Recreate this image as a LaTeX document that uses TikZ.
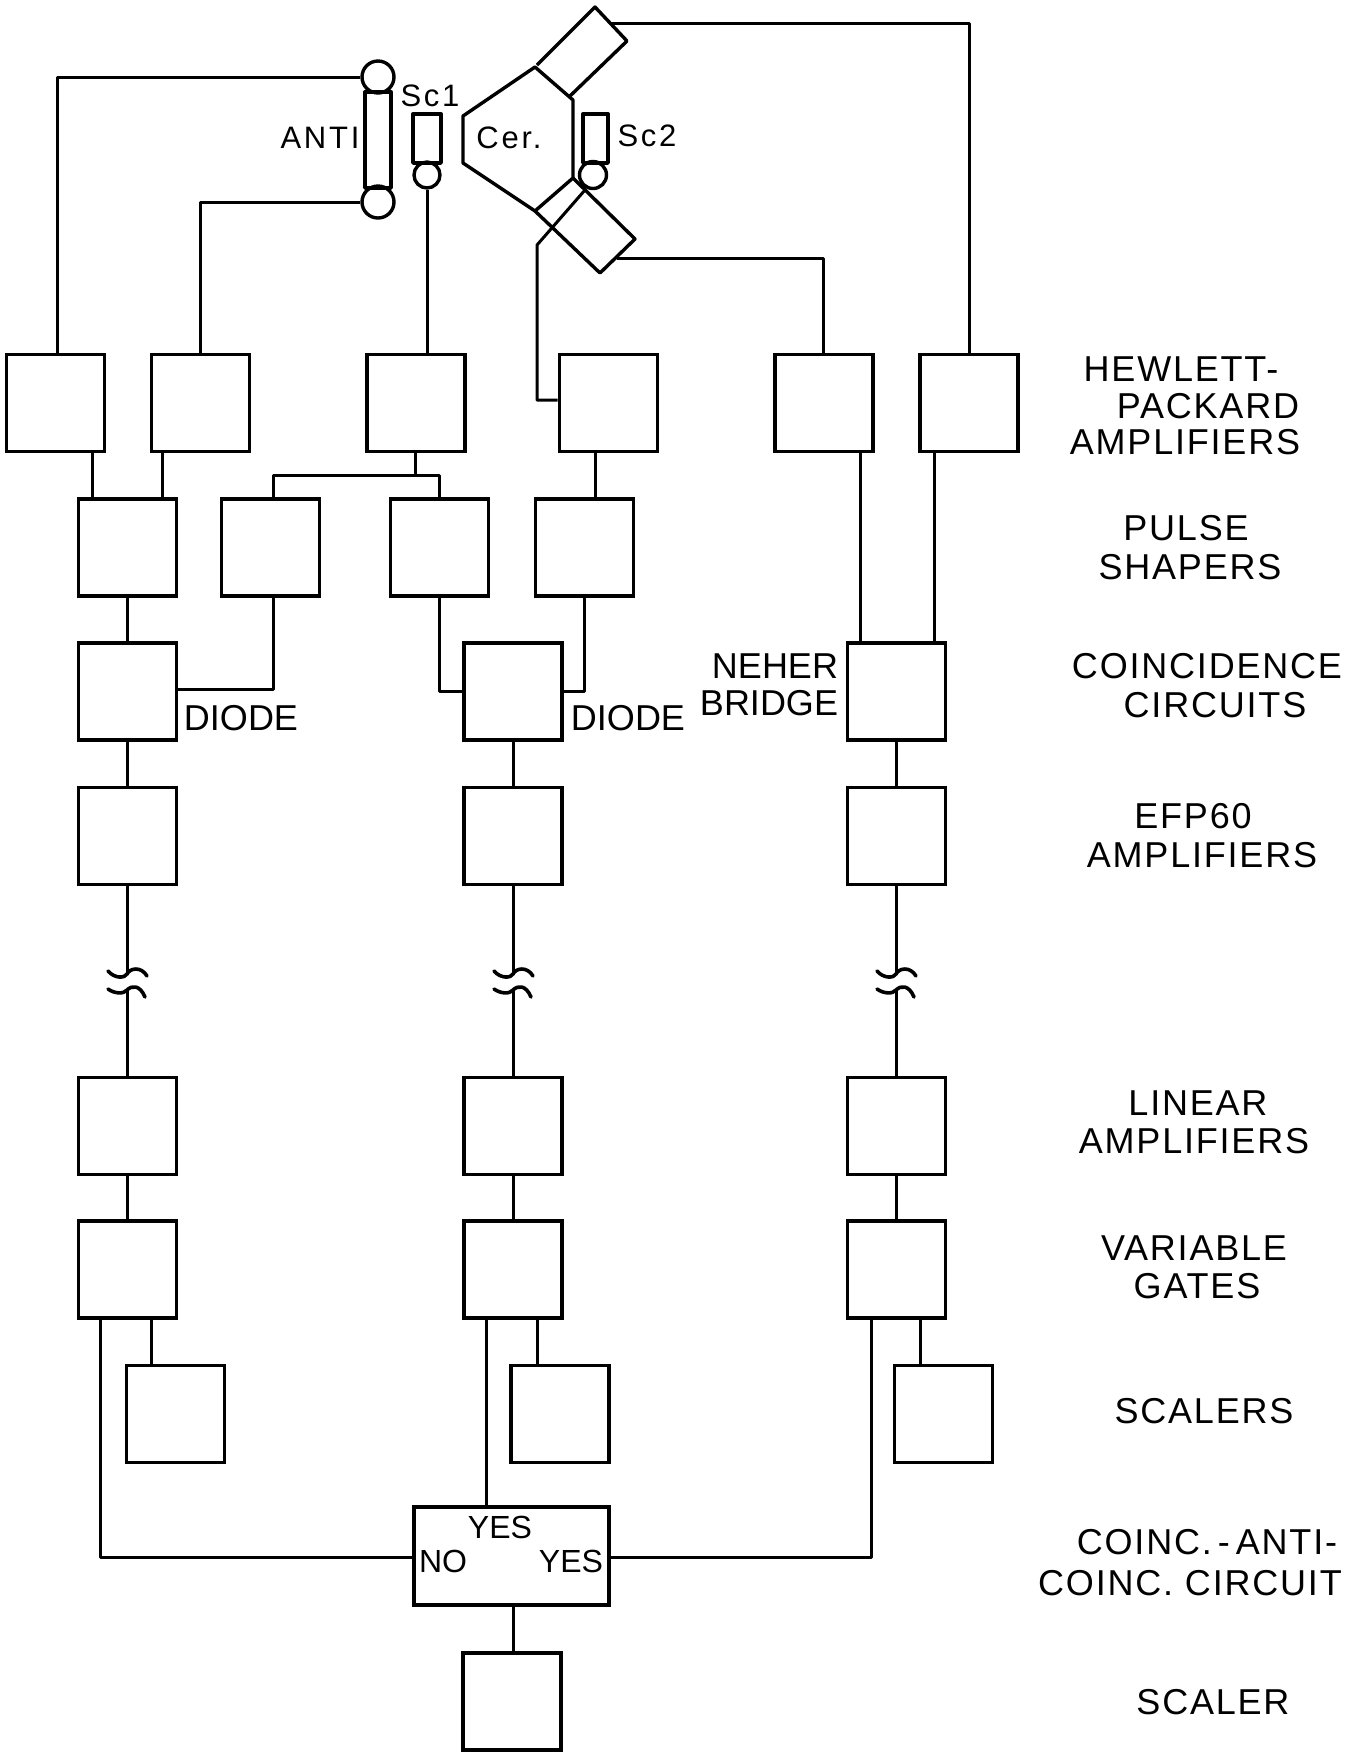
\documentclass[tikz,border=0pt]{standalone}
\usepackage{fontspec}
\setmainfont{Liberation Sans}
\newfontfamily\spacedfont[LetterSpace=5]{Liberation Sans}
\newfontfamily\widefont[LetterSpace=9]{Liberation Sans}
\tikzset{
  wire/.style={line width=1.5pt,line join=round},
  outl/.style={line width=1.7pt,line join=round},
  box/.style={draw,line width=1.8pt,inner sep=0pt,minimum width=49pt,minimum height=48.5pt},
  wide/.style={box,minimum width=97.5pt,minimum height=49pt},
  pmt/.style={draw,circle,line width=1.7pt,inner sep=0pt},
  lab/.style={inner sep=0pt,font=\fontsize{18}{20}\selectfont},
  rlab/.style={inner sep=0pt,font=\spacedfont\fontsize{18}{20}\selectfont},
  small/.style={inner sep=0pt,font=\widefont\fontsize{15.5}{17}\selectfont},
  mid/.style={inner sep=0pt,font=\fontsize{16}{18}\selectfont}
}
\newcommand{\wavebreak}[2]{%
  \draw[wire,line width=1.8pt,line cap=round,shift={(#1,#2)}]
    (-19,-4) .. controls (-12,4) and (-2,3) .. (0,-1) .. controls (3,-7) and (14,-9) .. (20,1)
    (-19,14) .. controls (-12,19) and (-3,19) .. (0,15) .. controls (5,10) and (13,10) .. (18,22);}
\begin{document}
\begin{tikzpicture}[x=0.5pt,y=-0.5pt]
\useasboundingbox (0,0) rectangle (1356,1753);
% amplifier row
\node[box] (h1) at (55.5,403) {};
\node[box] (h2) at (200.5,403) {};
\node[box] (h3) at (416,403) {};
\node[box] (h4) at (608.5,403) {};
\node[box] (h5) at (824,403) {};
\node[box] (h6) at (969,403) {};
% shapers
\node[box] (p1) at (127.5,547.5) {};
\node[box] (p2) at (270.5,547.5) {};
\node[box] (p3) at (439.5,547.5) {};
\node[box] (p4) at (584.5,547.5) {};
% columns
\foreach \c/\x in {1/127.5,2/513,3/896.5}{
  \node[box] (c\c) at (\x,691.5) {};
  \node[box] (e\c) at (\x,836) {};
  \node[box] (l\c) at (\x,1126) {};
  \node[box] (g\c) at (\x,1269.5) {};
}
\node[box] (s1) at (175.5,1414) {};
\node[box] (s2) at (560,1414) {};
\node[box] (s3) at (943.5,1414) {};
\node[wide] (cc) at (511.5,1556) {};
\node[box] (sc) at (512,1701.5) {};
% detectors
\node[pmt,minimum size=16pt] (at) at (378,77) {};
\node[pmt,minimum size=16pt] (ab) at (378,202) {};
\draw[outl] (365,92) rectangle (391,188);
\draw[outl] (413,114) rectangle (441,163);
\node[pmt,minimum size=13pt] (sa) at (427,175) {};
\draw[outl] (583,114) rectangle (608,163);
\node[pmt,minimum size=13.5pt] (sb) at (593,175) {};
\draw[outl] (463,116) -- (535,67) -- (573,100) -- (573,178) -- (535,211) -- (463,163) -- cycle;
\coordinate (up1) at (610,23);
\coordinate (lo1) at (617,258);
\draw[outl] (537,65) -- (595,7) -- (627,41) -- (570,96);
\draw[outl] (573,178) -- (635,239) -- (600,273) -- (535,211);
% wires from detectors
\coordinate (k1) at (585,190);
\coordinate (k2) at (537,245);
\draw[wire] (at.west) -- (57,0 |- at.west) -- (57,0 |- h1.north);
\draw[wire] (ab.west) -- (200,0 |- ab.west) -- (200,0 |- h2.north);
\draw[wire] (sa.south) -- (sa.south |- h3.north);
\draw[wire] (k1) -- (k2) -- (537,400) -- (537,400 -| h4.west);
\draw[wire] (lo1) -- (823,258) -- (823,0 |- h5.north);
\draw[wire] (up1) -- (969,23) -- (969,0 |- h6.north);
% amp to shaper
\draw[wire] (92,0 |- h1.south) -- (92,0 |- p1.north);
\draw[wire] (162,0 |- h2.south) -- (162,0 |- p1.north);
\draw[wire] (415,0 |- h3.south) -- (415,475);
\draw[wire] (273,0 |- p2.north) -- (273,475) -- (439,475) -- (439,0 |- p3.north);
\draw[wire] (595,0 |- h4.south) -- (595,0 |- p4.north);
\draw[wire] (860,0 |- h5.south) -- (860,0 |- c3.north);
\draw[wire] (934,0 |- h6.south) -- (934,0 |- c3.north);
% shaper to coincidence
\draw[wire] (p1.south) -- (c1.north);
\draw[wire] (273,0 |- p2.south) -- (273,689) -- (c1.east |- 0,689);
\draw[wire] (p3.south) -- (p3.south |- 0,691) -- (c2.west |- 0,691);
\draw[wire] (p4.south) -- (p4.south |- 0,691) -- (c2.east |- 0,691);
% column wires
\foreach \c in {1,2,3}{
  \draw[wire] (c\c.south) -- (e\c.north);
  \draw[wire] (l\c.south) -- (g\c.north);
  \draw[wire] (e\c.south) -- (e\c.south |- 0,975);
  \draw[wire] (l\c.north) -- (l\c.north |- 0,990);
}
\wavebreak{127}{975}
\wavebreak{513}{975}
\wavebreak{896}{975}
% gate outputs
\draw[wire] (151,0 |- g1.south) -- (151,0 |- s1.north);
\draw[wire] (537,0 |- g2.south) -- (537,0 |- s2.north);
\draw[wire] (920,0 |- g3.south) -- (920,0 |- s3.north);
\draw[wire] (100,0 |- g1.south) -- (100,1557) -- (cc.west |- 0,1557);
\draw[wire] (486,0 |- g2.south) -- (486,0 |- cc.north);
\draw[wire] (871,0 |- g3.south) -- (871,1557) -- (cc.east |- 0,1557);
\draw[wire] (513,0 |- cc.south) -- (513,0 |- sc.north);
% labels
\node[rlab] (t1) at (1181,369) {HEWLETT-};
\node[rlab] (t2) at (1208,406) {PACKARD};
\node[rlab] (t3) at (1185,442) {AMPLIFIERS};
\node[rlab] (t4) at (1186,528) {PULSE};
\node[rlab] (t5) at (1190,567) {SHAPERS};
\node[rlab] (t6) at (1207,666) {COINCIDENCE};
\node[rlab] (t7) at (1215,705) {CIRCUITS};
\node[rlab] (t8) at (1193,816) {EFP60};
\node[rlab] (t9) at (1202,855) {AMPLIFIERS};
\node[rlab] (t10) at (1198,1103) {LINEAR};
\node[rlab] (t11) at (1194,1141) {AMPLIFIERS};
\node[rlab] (t12) at (1194,1248) {VARIABLE};
\node[rlab] (t13) at (1197,1286) {GATES};
\node[rlab] (t14) at (1204,1411) {SCALERS};
\node[rlab] (t15) at (1207,1542) {COINC.\,-\,ANTI-};
\node[rlab] (t16) at (1190,1583) {COINC. CIRCUIT};
\node[rlab] (t17) at (1213,1702) {SCALER};
\node[lab] (d1) at (241,718) {DIODE};
\node[lab] (d2) at (628,718) {DIODE};
\node[lab] (n1) at (775,666) {NEHER};
\node[lab] (n2) at (769,703) {BRIDGE};
\node[mid] (y1) at (500,1527) {YES};
\node[mid] (y2) at (443,1561) {NO};
\node[mid] (y3) at (571,1561) {YES};
\node[small] (d3) at (320,138) {ANTI};
\node[small] (d4) at (430,96) {Sc1};
\node[small] (d5) at (509,138) {Cer.};
\node[small] (d6) at (647,136) {Sc2};
\end{tikzpicture}
\end{document}
